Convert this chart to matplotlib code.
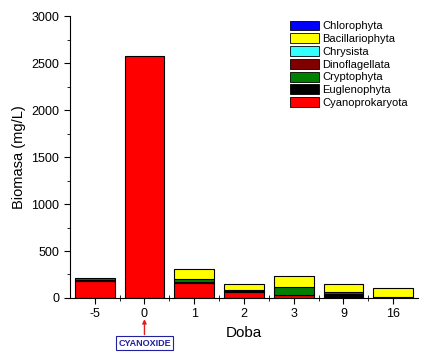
import matplotlib.pyplot as plt
import numpy as np

plt.rcParams['font.family'] = ['Liberation Sans', 'DejaVu Sans']

days = ['-5', '0', '1', '2', '3', '9', '16']

# biomasa po skupinach (mg/L), odhad z obrazku
cyanoprokaryota = [180, 2580, 155, 62, 30, 10, 5]
euglenophyta = [10, 0, 12, 12, 5, 30, 5]
cryptophyta = [22, 0, 40, 16, 80, 20, 0]
dinoflagellata = [0, 0, 0, 0, 0, 0, 0]
chrysista = [0, 0, 0, 0, 0, 0, 0]
bacillariophyta = [0, 0, 100, 55, 120, 85, 93]
chlorophyta = [0, 0, 0, 0, 0, 0, 0]

series = [
    ('Cyanoprokaryota', cyanoprokaryota, '#ff0000'),
    ('Euglenophyta', euglenophyta, '#000000'),
    ('Cryptophyta', cryptophyta, '#008000'),
    ('Dinoflagellata', dinoflagellata, '#800000'),
    ('Chrysista', chrysista, '#33ffff'),
    ('Bacillariophyta', bacillariophyta, '#ffff00'),
    ('Chlorophyta', chlorophyta, '#0000ff'),
]

fig = plt.figure(figsize=(4.31, 3.59), dpi=100)
ax = fig.add_axes([0.162, 0.170, 0.808, 0.785])

x = np.arange(len(days))
bottom = np.zeros(len(days))
for name, vals, col in series:
    vals = np.array(vals, dtype=float)
    lw = np.where(vals > 0, 0.8, 0.0)
    ax.bar(x, vals, 0.8, bottom=bottom, color=col, edgecolor='black',
           linewidth=lw, label=name)
    bottom += vals

ax.set_xlim(-0.5, 6.5)
ax.set_ylim(0, 3000)
ax.set_xticks(x)
ax.set_xticklabels(days)
ax.set_xticks(x[:-1] + 0.5, minor=True)
ax.set_yticks(np.arange(0, 3001, 500))
ax.set_yticks(np.arange(250, 3000, 500), minor=True)
ax.tick_params(axis='both', which='major', direction='out', length=4, labelsize=9)
ax.tick_params(axis='x', which='minor', direction='inout', length=5)
ax.tick_params(axis='y', which='minor', direction='out', length=2.5)
ax.spines['top'].set_visible(False)
ax.spines['right'].set_visible(False)

ax.set_xlabel('Doba', fontsize=11, labelpad=4)
ax.set_ylabel('Biomasa (mg/L)', fontsize=10.5, labelpad=4)

ax.legend([plt.Rectangle((0, 0), 1, 1, fc=s[2], ec='black', lw=0.6)
           for s in series][::-1],
          [s[0] for s in series][::-1], loc='upper right',
          bbox_to_anchor=(1.0, 1.02), frameon=False, fontsize=8,
          handlelength=2.6, handleheight=1.0, labelspacing=0.18,
          handletextpad=0.3)

ax.annotate('CYANOXIDE', xy=(1, -0.075), xycoords=('data', 'axes fraction'),
            xytext=(1, -0.16), textcoords=('data', 'axes fraction'),
            ha='center', va='center', fontsize=6.5, fontweight='bold',
            color='#2020a0',
            bbox=dict(boxstyle='square,pad=0.25', fc='white', ec='#2020a0', lw=0.8),
            arrowprops=dict(arrowstyle='-|>', color='#e02020', lw=1.0,
                            mutation_scale=6, shrinkA=1, shrinkB=0))

fig.savefig('out.png', dpi=100)
